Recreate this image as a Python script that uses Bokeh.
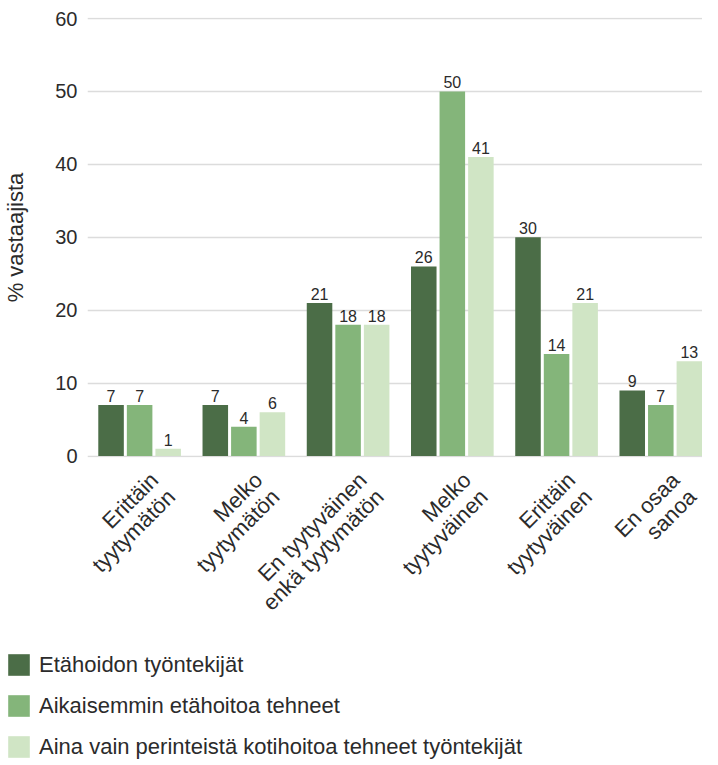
import numpy as np
from bokeh.plotting import figure
from bokeh.layouts import column
from bokeh.models import (Range1d, FixedTicker, Legend, LegendItem, ColumnDataSource)
from bokeh.core.properties import value
from bokeh.embed import file_html
from bokeh.resources import INLINE

categories = ["Erittäin\ntyytymätön", "Melko\ntyytymätön", "En tyytyväinen\nenkä tyytymätön",
              "Melko\ntyytyväinen", "Erittäin\ntyytyväinen", "En osaa\nsanoa"]
series_names = ["Etähoidon työntekijät", "Aikaisemmin etähoitoa tehneet",
                "Aina vain perinteistä kotihoitoa tehneet työntekijät"]
etahoito = [7, 7, 21, 26, 30, 9]
aikaisemmin = [7, 4, 18, 50, 14, 7]
perinteinen = [1, 6, 18, 41, 21, 13]
y_ticks = [0, 10, 20, 30, 40, 50, 60]
colors = ["#4b6d47", "#84b57a", "#d0e5c5"]

FONT = "Liberation Sans"
TXT = "#2b2b2b"
W = 702

p = figure(width=W, frame_height=440, min_border_left=83, min_border_right=0,
           min_border_top=17, min_border_bottom=10, x_axis_location=None,
           x_range=Range1d(0, 5.9), y_range=Range1d(-0.2, 60.14),
           output_backend="svg", toolbar_location=None)
p.outline_line_color = None

centers = np.arange(len(categories)) + 0.5
offsets = [-0.274, 0.0, 0.274]
for vals, off, col in zip([etahoito, aikaisemmin, perinteinen], offsets, colors):
    src = ColumnDataSource(dict(x=centers + off, top=vals, lab=[str(v) for v in vals]))
    p.vbar(x="x", top="top", bottom=0, width=0.245, source=src,
           fill_color=col, line_color=None)
    p.text(x="x", y="top", text="lab", source=src, text_align="center",
           text_baseline="bottom", y_offset=-3, text_font=value(FONT),
           text_font_size="16px", text_color=TXT)

p.yaxis.ticker = FixedTicker(ticks=y_ticks)
p.yaxis.axis_line_color = None
p.yaxis.major_tick_line_color = None
p.yaxis.minor_tick_line_color = None
p.yaxis.major_label_text_font = FONT
p.yaxis.major_label_text_font_size = "20px"
p.yaxis.major_label_text_color = TXT
p.yaxis.major_label_standoff = 4
p.yaxis.axis_label = "% vastaajista"
p.yaxis.axis_label_text_font = FONT
p.yaxis.axis_label_text_font_size = "22px"
p.yaxis.axis_label_text_font_style = "normal"
p.yaxis.axis_label_text_color = TXT
p.yaxis.axis_label_standoff = 24

p.xgrid.grid_line_color = None
p.ygrid.grid_line_color = "#dcdcdc"
p.ygrid.grid_line_width = 1.5

# category labels strip (shares the x scale of the chart)
SH = 183
strip = figure(width=W, frame_height=SH, x_range=p.x_range, y_range=Range1d(-SH, 0),
               min_border_left=83, min_border_right=0, min_border_top=0, min_border_bottom=0,
               x_axis_location=None, y_axis_location=None,
               output_backend="svg", toolbar_location=None)
strip.grid.visible = False
strip.outline_line_color = None
strip.text(x=list(centers), y=[0] * len(categories), text=categories, angle=np.pi / 4,
           text_align="right", text_baseline="top", x_offset=6, y_offset=0,
           text_font=value(FONT), text_font_size="22px", text_color=TXT,
           text_line_height=0.95)

# legend as its own root, so that it starts at the page's left edge
lg = figure(width=W, height=112, x_range=Range1d(0, 1), y_range=Range1d(0, 1),
            min_border=0, x_axis_location=None, y_axis_location=None,
            output_backend="svg", toolbar_location=None)
lg.grid.visible = False
lg.outline_line_color = None
dummy = ColumnDataSource(dict(x=[100], top=[1]))
items = []
for name, col in zip(series_names, colors):
    r = lg.vbar(x="x", top="top", width=0.1, source=dummy, fill_color=col, line_color=None)
    items.append(LegendItem(label=name, renderers=[r]))
legend = Legend(items=items, location=(5, 2), orientation="vertical", margin=0, padding=0,
                glyph_width=27, glyph_height=27, label_height=27, spacing=14,
                label_standoff=7, label_text_font=FONT, label_text_font_size="22px",
                label_text_color=TXT, border_line_color=None, background_fill_alpha=0)
lg.add_layout(legend, "center")

open("out.html", "w").write(file_html([column(p, strip, spacing=0), lg], INLINE))
